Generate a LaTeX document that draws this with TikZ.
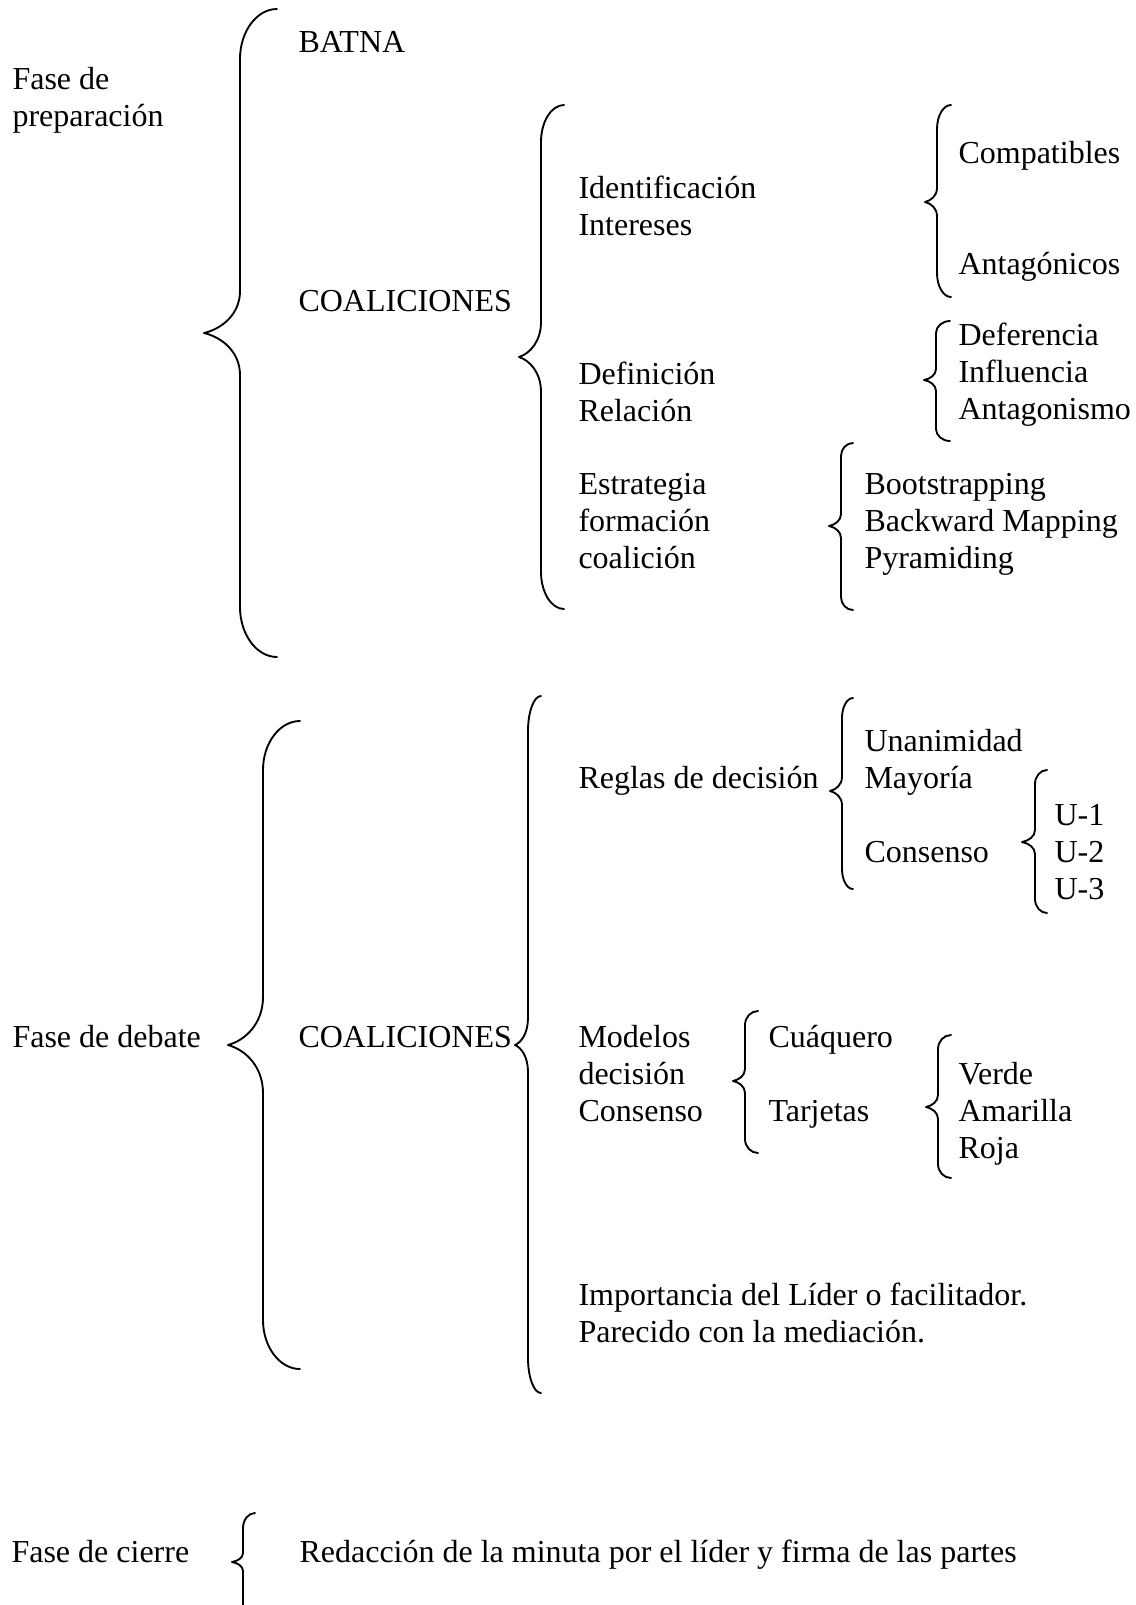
\documentclass[tikz,border=0pt]{standalone}
\usepackage{fontspec}
\setmainfont{Liberation Serif}
\usepackage{tikz}
\tikzset{
  txt/.style ={inner sep=0pt, anchor=base west, align=left,
               font=\fontsize{12pt}{13.7pt}\selectfont},
  brc/.style ={line width=0.7pt, line cap=round, line join=round},
}
% left curly brace: tip x, line x, end x, top y, tip y, bottom y, end hook, tip hook
\newcommand{\brc}[8]{%
  \draw[brc] (#3,#4) .. controls ({#2+0.45*(#3-#2)},#4) and (#2,{#4+0.45*#7}) .. (#2,{#4+#7})
    -- (#2,{#5-#8}) .. controls (#2,{#5-0.45*#8}) and ({#1+0.5*(#2-#1)},{#5-0.1*#8}) .. (#1,#5)
    .. controls ({#1+0.5*(#2-#1)},{#5+0.1*#8}) and (#2,{#5+0.45*#8}) .. (#2,{#5+#8})
    -- (#2,{#6-#7}) .. controls (#2,{#6-0.45*#7}) and ({#2+0.45*(#3-#2)},#6) .. (#3,#6);}

\begin{document}
\begin{tikzpicture}[x=0.375pt,y=-0.375pt]
\useasboundingbox (0,0) rectangle (1136,1605);
\clip (0,0) rectangle (1136,1605);

% preparacion (y = baseline of the last line)
\node[txt] (prep) at (12,126) {Fase de\\preparación};
\node[txt] (batna) at (298,52) {BATNA};
\node[txt] (coal1) at (298,311) {COALICIONES};
\node[txt] (ident) at (578,235) {Identificación\\Intereses};
\node[txt] (compat) at (958,163) {Compatibles};
\node[txt] (antag) at (958,274) {Antagónicos};
\node[txt] (defin) at (578,421) {Definición\\Relación};
\node[txt] (defer) at (958,419) {Deferencia\\Influencia\\Antagonismo};
\node[txt] (estr) at (578,568) {Estrategia\\formación\\coalición};
\node[txt] (boot) at (864,568) {Bootstrapping\\Backward Mapping\\Pyramiding};

\brc{204}{240}{277}{9}{333}{657}{50}{42}
\brc{519}{541}{564}{105}{357}{609}{37}{35}
\brc{925}{937}{951}{105}{202}{297}{24}{14}
\brc{924}{936}{950}{321}{380}{441}{12}{11}
\brc{829}{841}{853}{443}{526}{610}{13}{12}

% debate
\node[txt] (deb) at (12,1047) {Fase de debate};
\node[txt] (coal2) at (298,1047) {COALICIONES};
\node[txt] (reglas) at (578,788) {Reglas de decisión};
\node[txt] (unan) at (864,751) {Unanimidad};
\node[txt] (mayo) at (864,788) {Mayoría};
\node[txt] (cons) at (864,862) {Consenso};
\node[txt] (uu) at (1054,899) {U-1\\U-2\\U-3};
\node[txt] (model) at (578,1121) {Modelos\\decisión\\Consenso};
\node[txt] (cuaq) at (768,1047) {Cuáquero};
\node[txt] (tarj) at (768,1121) {Tarjetas};
\node[txt] (color) at (958,1158) {Verde\\Amarilla\\Roja};
\node[txt] (lider) at (578,1342) {Importancia del Líder o facilitador.\\Parecido con la mediación.};

\brc{228}{263}{300}{721}{1045}{1369}{49}{48}
\brc{515}{528}{541}{696}{1045}{1393}{35}{27}
\brc{830}{842}{853}{698}{791}{889}{20}{14}
\brc{1022}{1035}{1047}{770}{842}{913}{14}{12}
\brc{733}{745}{758}{1011}{1081}{1153}{14}{12}
\brc{926}{938}{951}{1035}{1107}{1178}{14}{12}

% cierre
\node[txt] (cierre) at (11,1562) {Fase de cierre};
\node[txt] (redac) at (299,1562) {Redacción de la minuta por el líder y firma de las partes};

\brc{232}{243}{255}{1513}{1562}{1660}{15}{9}
\end{tikzpicture}
\end{document}
